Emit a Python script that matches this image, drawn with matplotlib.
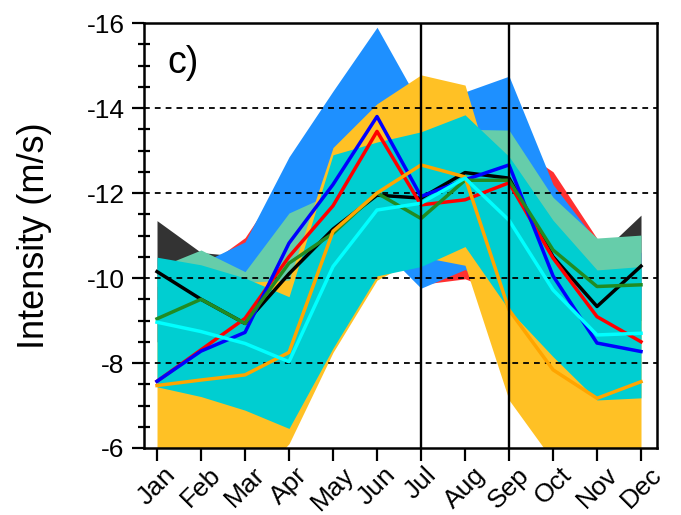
"""Monthly intensity spread, panel c): model ranges as bands, means as lines."""

import matplotlib

matplotlib.use("Agg")
import matplotlib.pyplot as plt
import numpy as np

MONTHS = ["Jan", "Feb", "Mar", "Apr", "May", "Jun",
          "Jul", "Aug", "Sep", "Oct", "Nov", "Dec"]

# band limits (upper = more intense / more negative)
black_hi = [-11.35, -10.6, -10.5, -11.5, -12.5, -13.2, -13.5, -13.62, -13.5, -11.8, -10.5, -11.48]
black_lo = [-9.5, -9.5, -9.0, -9.5, -10.0, -11.0, -11.5, -11.5, -11.0, -9.5, -9.0, -9.0]
red_hi = [-9.8, -10.2, -10.95, -12.5, -13.5, -14.5, -13.5, -13.4, -13.2, -12.5, -10.93, -10.6]
red_lo = [-8.5, -8.8, -9.0, -9.3, -9.8, -10.9, -9.85, -9.98, -9.6, -9.2, -9.0, -9.0]
blue_hi = [-9.5, -10.35, -10.85, -12.85, -14.4, -15.9, -14.05, -14.38, -14.75, -12.2, -10.85, -10.6]
blue_lo = [-8.5, -8.5, -8.6, -9.0, -9.6, -10.8, -9.76, -10.2, -9.6, -9.2, -9.0, -9.0]
aqua_hi = [-10.24, -10.66, -10.15, -11.53, -12.0, -13.0, -13.3, -13.5, -13.48, -11.9, -10.94, -11.01]
aqua_lo = [-9.0, -9.0, -9.0, -9.0, -10.5, -11.5, -11.5, -11.5, -11.0, -9.5, -8.5, -8.5]
orange_hi = [-9.0, -9.3, -9.9, -9.95, -13.07, -14.1, -14.78, -14.54, -11.1, -10.0, -9.5, -9.5]
orange_lo = [-5.0, -5.0, -5.0, -6.1, -8.25, -9.95, -10.5, -10.3, -7.13, -5.7, -5.0, -5.0]
cyan_hi = [-10.49, -10.31, -10.0, -9.56, -12.9, -13.2, -13.44, -13.84, -12.86, -11.36, -10.19, -10.27]
cyan_lo = [-7.44, -7.21, -6.89, -6.46, -8.35, -10.05, -10.27, -10.74, -9.25, -8.15, -7.13, -7.18]

# mean curves
black_line = [-10.15, -9.5, -8.93, -10.1, -11.15, -11.95, -11.88, -12.48, -12.35, -10.5, -9.33, -10.28]
red_line = [-7.57, -8.31, -9.05, -10.5, -11.7, -13.45, -11.72, -11.84, -12.24, -10.47, -9.09, -8.5]
blue_line = [-7.57, -8.28, -8.72, -10.82, -12.2, -13.8, -11.92, -12.31, -12.66, -10.05, -8.47, -8.27]
green_line = [-9.04, -9.5, -8.93, -10.35, -11.05, -12.0, -11.4, -12.3, -12.3, -10.66, -9.8, -9.84]
orange_line = [-7.47, -7.6, -7.72, -8.25, -11.1, -12.0, -12.66, -12.38, -9.25, -7.84, -7.17, -7.56]
cyan_line = [-8.96, -8.74, -8.46, -8.03, -10.27, -11.6, -11.76, -12.35, -11.36, -9.72, -8.66, -8.7]

Y_TICKS = [-16, -14, -12, -10, -8, -6]


def main():
    plt.rcParams["font.family"] = ["Liberation Sans", "DejaVu Sans"]
    plt.rcParams["axes.unicode_minus"] = False

    fig = plt.figure(figsize=(6.81, 5.15), dpi=100)
    ax = fig.add_axes([0.2115, 0.1301, 0.7533, 0.8252])
    x = np.arange(len(MONTHS))

    bands = [
        (black_lo, black_hi, "#333333"),
        (red_lo, red_hi, "#ff3030"),
        (blue_lo, blue_hi, "#1e90ff"),
        (aqua_lo, aqua_hi, "#66cdaa"),
        (orange_lo, orange_hi, "#ffc125"),
        (cyan_lo, cyan_hi, "#00ced1"),
    ]
    for lo, hi, c in bands:
        ax.fill_between(x, lo, hi, color=c, lw=0, zorder=1)

    for yv in Y_TICKS[1:-1]:
        ax.axhline(yv, color="k", lw=1.3, ls=(0, (3.2, 2.8)), zorder=2)

    lines = [
        (black_line, "black"),
        (red_line, "red"),
        (blue_line, "blue"),
        (green_line, "#228b22"),
        (orange_line, "#ffa500"),
        (cyan_line, "cyan"),
    ]
    for vals, c in lines:
        ax.plot(x, vals, color=c, lw=2.5, zorder=4)

    for xv in (6, 8):
        ax.axvline(xv, color="k", lw=1.7, zorder=5)

    ax.set_xlim(-0.295, 11.364)
    ax.set_ylim(-6, -16)
    ax.set_xticks(x, MONTHS, rotation=45, ha="center", fontsize=19)
    ax.set_yticks(Y_TICKS, [str(v) for v in Y_TICKS], fontsize=19)
    ax.set_yticks(np.arange(-16, -5.9, 0.5), minor=True)
    ax.tick_params(axis="x", direction="out", length=9.5, width=1.6, pad=1)
    ax.tick_params(axis="y", which="major", direction="out", length=9, width=1.6, pad=5)
    ax.tick_params(axis="y", which="minor", direction="inout", length=8, width=1.6)
    for sp in ax.spines.values():
        sp.set_linewidth(1.8)

    ax.set_ylabel("Intensity (m/s)", fontsize=26)
    ax.yaxis.set_label_coords(-0.18, 0.5)
    ax.text(0.045, 0.906, "c)", transform=ax.transAxes, fontsize=27,
            ha="left", va="center", zorder=6)

    fig.savefig("out.png", dpi=100)
    plt.close(fig)


if __name__ == "__main__":
    main()
